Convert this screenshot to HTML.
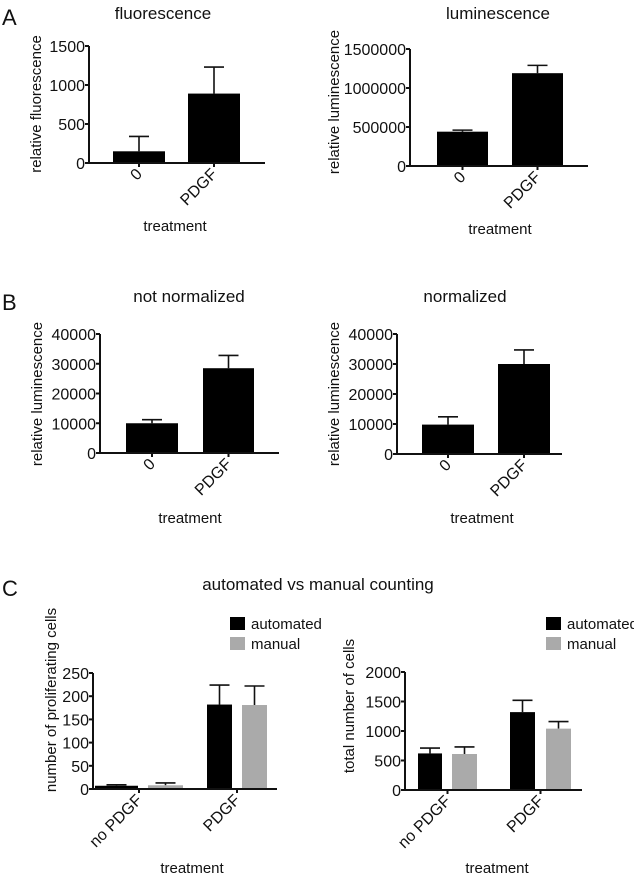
<!DOCTYPE html>
<html><head><meta charset="utf-8"><style>
body{margin:0;background:#fff;}
svg{display:block;font-family:"Liberation Sans",Arial,sans-serif;}
</style></head><body>
<svg id="fig" width="634" height="874" xmlns="http://www.w3.org/2000/svg">
<text x="2" y="25" font-size="22" fill="#111">A</text>
<text x="2" y="310" font-size="22" fill="#111">B</text>
<text x="2" y="596" font-size="22" fill="#111">C</text>
<text x="163" y="19" font-size="17" text-anchor="middle" fill="#111">fluorescence</text>
<text x="498" y="19" font-size="17" text-anchor="middle" fill="#111">luminescence</text>
<text x="189" y="302" font-size="17" text-anchor="middle" fill="#111">not normalized</text>
<text x="465" y="302" font-size="17" text-anchor="middle" fill="#111">normalized</text>
<text x="318" y="590" font-size="17" text-anchor="middle" fill="#111">automated vs manual counting</text>
</svg>
<script>
// A1 fluorescence
const a1Cats=["0","PDGF"];
const a1Vals=[150,890];
const a1Errs=[340,1230];
const a1Ticks=[0,500,1000,1500];
// A2 luminescence
const a2Cats=["0","PDGF"];
const a2Vals=[440000,1190000];
const a2Errs=[460000,1290000];
const a2Ticks=[0,500000,1000000,1500000];
// B1 not normalized
const b1Cats=["0","PDGF"];
const b1Vals=[10000,28500];
const b1Errs=[11200,32800];
const b1Ticks=[0,10000,20000,30000,40000];
// B2 normalized
const b2Cats=["0","PDGF"];
const b2Vals=[9800,30000];
const b2Errs=[12400,34700];
const b2Ticks=[0,10000,20000,30000,40000];
// C1 proliferating
const c1Cats=["no PDGF","PDGF"];
const c1Auto=[7,182];
const c1AutoErr=[9,224];
const c1Man=[8,181];
const c1ManErr=[13,222];
const c1Ticks=[0,50,100,150,200,250];
// C2 total
const c2Cats=["no PDGF","PDGF"];
const c2Auto=[620,1320];
const c2AutoErr=[710,1520];
const c2Man=[610,1040];
const c2ManErr=[730,1160];
const c2Ticks=[0,500,1000,1500,2000];
const seriesNames=["automated","manual"];

const svg=document.getElementById('fig');
const NS="http://www.w3.org/2000/svg";
function mk(tag,a,parent){const e=document.createElementNS(NS,tag);for(const k in a)e.setAttribute(k,a[k]);(parent||svg).appendChild(e);return e;}

function chart(cfg){
  const g=mk('g',{});
  
  
  const max=cfg.ticks[cfg.ticks.length-1];
  const y=v=>cfg.y0-(v/max)*(cfg.y0-cfg.yTop);
  // bars
  cfg.series.forEach((s,si)=>{
    s.vals.forEach((v,i)=>{
      const x0=cfg.barX[i][si][0],x1=cfg.barX[i][si][1],cx=(x0+x1)/2;
      const eb=mk('line',{x1:cx,x2:cx,y1:y(v),y2:y(s.errs[i]),stroke:'#111','stroke-width':1.6},g);
      
      
      const cap=mk('line',{x1:cx-10,x2:cx+10,y1:y(s.errs[i]),y2:y(s.errs[i]),stroke:'#111','stroke-width':1.6},g);
      
      
      const r=mk('rect',{x:x0,y:y(v),width:x1-x0,height:cfg.y0-y(v),fill:s.color},g);
      
      
    });
  });
  // axes
  const ya=mk('line',{x1:cfg.ax,x2:cfg.ax,y1:cfg.yTop,y2:cfg.y0,stroke:'#111','stroke-width':2},g);
  
  
  const xa=mk('line',{x1:cfg.ax,x2:cfg.axEnd,y1:cfg.y0,y2:cfg.y0,stroke:'#111','stroke-width':2},g);
  
  
  cfg.ticks.forEach(t=>{
    mk('line',{x1:cfg.ax-4,x2:cfg.ax,y1:y(t),y2:y(t),stroke:'#111','stroke-width':2},g);
    const tl=mk('text',{x:cfg.ax-4,y:y(t)+6,'font-size':16,'text-anchor':'end',fill:'#111'},g);
    tl.textContent=t;
    
    
  });
  cfg.cats.forEach((c,i)=>{
    const grp=cfg.barX[i];
    const cx=(grp[0][0]+grp[grp.length-1][1])/2;
    mk('line',{x1:cx,x2:cx,y1:cfg.y0,y2:cfg.y0+4,stroke:'#111','stroke-width':2},g);
    const tl=mk('text',{x:cx+4,y:cfg.y0+12,'font-size':16,'text-anchor':'end',fill:'#111',transform:`rotate(-45 ${cx+4} ${cfg.y0+12})`},g);
    tl.textContent=c;
    
    
  });
  const xt=mk('text',{x:cfg.xtX,y:cfg.xtY,'font-size':15,'text-anchor':'middle',fill:'#111'},g);
  xt.textContent='treatment';
  
  
  const yt=mk('text',{x:cfg.ytX,y:cfg.ytY,'font-size':15,'text-anchor':'middle',fill:'#111',transform:`rotate(-90 ${cfg.ytX} ${cfg.ytY})`},g);
  yt.textContent=cfg.yTitle;
  
  
  if(cfg.legend){
    seriesNames.forEach((n,i)=>{
      const sq=mk('rect',{x:cfg.legend[0],y:cfg.legend[1]+i*20,width:15,height:13,fill:cfg.series[i].color},g);
      
      
      const lt=mk('text',{x:cfg.legend[0]+21,y:cfg.legend[1]+i*20+12,'font-size':15,fill:'#111'},g);
      lt.textContent=n;
      
      
    });
  }
}
chart({name:'chart-fluorescence',cats:a1Cats,ticks:a1Ticks,series:[{vals:a1Vals,errs:a1Errs,color:'#000'}],
  ax:89,axEnd:265,y0:163,yTop:46,barX:[[[113,165]],[[188,240]]],xtX:175,xtY:231,ytX:41,ytY:104,yTitle:'relative fluorescence'});
chart({name:'chart-luminescence',cats:a2Cats,ticks:a2Ticks,series:[{vals:a2Vals,errs:a2Errs,color:'#000'}],
  ax:410,axEnd:588,y0:166,yTop:49,barX:[[[437,488]],[[512,563]]],xtX:500,xtY:234,ytX:339,ytY:102,yTitle:'relative luminescence'});
chart({name:'chart-not-normalized',cats:b1Cats,ticks:b1Ticks,series:[{vals:b1Vals,errs:b1Errs,color:'#000'}],
  ax:100,axEnd:279,y0:453,yTop:334,barX:[[[126,178]],[[203,254]]],xtX:190,xtY:523,ytX:42,ytY:394,yTitle:'relative luminescence'});
chart({name:'chart-normalized',cats:b2Cats,ticks:b2Ticks,series:[{vals:b2Vals,errs:b2Errs,color:'#000'}],
  ax:397,axEnd:562,y0:454,yTop:334,barX:[[[422,474]],[[498,550]]],xtX:482,xtY:523,ytX:339,ytY:394,yTitle:'relative luminescence'});
chart({name:'chart-proliferating-cells',cats:c1Cats,ticks:c1Ticks,series:[{vals:c1Auto,errs:c1AutoErr,color:'#000'},{vals:c1Man,errs:c1ManErr,color:'#aaa'}],
  ax:93,axEnd:277,y0:789,yTop:673,barX:[[[95,138],[148,183]],[[207,232],[242,267]]],xtX:192,xtY:873,ytX:56,ytY:700,yTitle:'number of proliferating cells',legend:[230,617]});
chart({name:'chart-total-cells',cats:c2Cats,ticks:c2Ticks,series:[{vals:c2Auto,errs:c2AutoErr,color:'#000'},{vals:c2Man,errs:c2ManErr,color:'#aaa'}],
  ax:405,axEnd:582,y0:790,yTop:672,barX:[[[418,442],[452,477]],[[510,535],[546,571]]],xtX:497,xtY:873,ytX:354,ytY:706,yTitle:'total number of cells',legend:[546,617]});
</script>
</body></html>
